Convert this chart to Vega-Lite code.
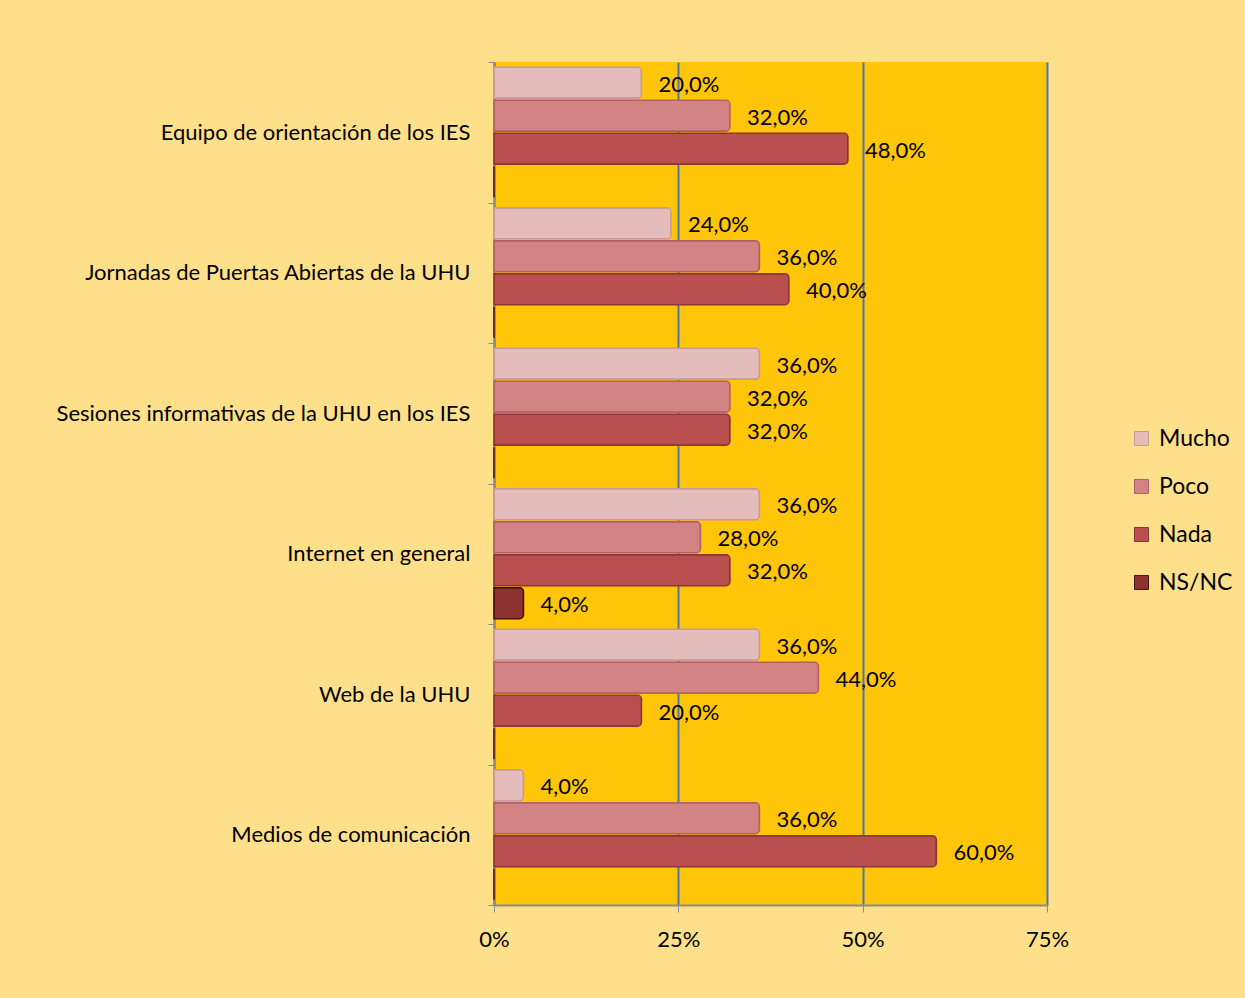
{
  "$schema": "https://vega.github.io/schema/vega-lite/v6.json",
  "width": 553,
  "height": 843,
  "autosize": {"type": "none"},
  "padding": {"left": 494, "top": 62, "right": 198, "bottom": 93},
  "background": "#FFE08A",
  "data": {
    "values": [
      {"medio": "Equipo de orientación de los IES", "respuesta": "Mucho", "valor": 0.20},
      {"medio": "Equipo de orientación de los IES", "respuesta": "Poco", "valor": 0.32},
      {"medio": "Equipo de orientación de los IES", "respuesta": "Nada", "valor": 0.48},
      {"medio": "Equipo de orientación de los IES", "respuesta": "NS/NC", "valor": 0},
      {"medio": "Jornadas de Puertas Abiertas de la UHU", "respuesta": "Mucho", "valor": 0.24},
      {"medio": "Jornadas de Puertas Abiertas de la UHU", "respuesta": "Poco", "valor": 0.36},
      {"medio": "Jornadas de Puertas Abiertas de la UHU", "respuesta": "Nada", "valor": 0.40},
      {"medio": "Jornadas de Puertas Abiertas de la UHU", "respuesta": "NS/NC", "valor": 0},
      {"medio": "Sesiones informativas de la UHU en los IES", "respuesta": "Mucho", "valor": 0.36},
      {"medio": "Sesiones informativas de la UHU en los IES", "respuesta": "Poco", "valor": 0.32},
      {"medio": "Sesiones informativas de la UHU en los IES", "respuesta": "Nada", "valor": 0.32},
      {"medio": "Sesiones informativas de la UHU en los IES", "respuesta": "NS/NC", "valor": 0},
      {"medio": "Internet en general", "respuesta": "Mucho", "valor": 0.36},
      {"medio": "Internet en general", "respuesta": "Poco", "valor": 0.28},
      {"medio": "Internet en general", "respuesta": "Nada", "valor": 0.32},
      {"medio": "Internet en general", "respuesta": "NS/NC", "valor": 0.04},
      {"medio": "Web de la UHU", "respuesta": "Mucho", "valor": 0.36},
      {"medio": "Web de la UHU", "respuesta": "Poco", "valor": 0.44},
      {"medio": "Web de la UHU", "respuesta": "Nada", "valor": 0.20},
      {"medio": "Web de la UHU", "respuesta": "NS/NC", "valor": 0},
      {"medio": "Medios de comunicación", "respuesta": "Mucho", "valor": 0.04},
      {"medio": "Medios de comunicación", "respuesta": "Poco", "valor": 0.36},
      {"medio": "Medios de comunicación", "respuesta": "Nada", "valor": 0.60},
      {"medio": "Medios de comunicación", "respuesta": "NS/NC", "valor": 0}
    ]
  },
  "encoding": {
    "y": {
      "field": "medio",
      "type": "nominal",
      "sort": null,
      "title": null,
      "scale": {"paddingInner": 0, "paddingOuter": 0},
      "axis": {
        "tickBand": "extent",
        "tickSize": 6,
        "tickColor": "#8C8C8C",
        "domainColor": "#8C8C8C",
        "domainWidth": 2,
        "labelPadding": 18,
        "labelFontSize": 22,
        "labelLimit": 500
      }
    },
    "yOffset": {
      "field": "respuesta",
      "type": "nominal",
      "sort": ["Mucho", "Poco", "Nada", "NS/NC"],
      "scale": {"paddingInner": 0.06, "paddingOuter": 0.16}
    },
    "x": {
      "field": "valor",
      "type": "quantitative",
      "title": null,
      "scale": {"domain": [0, 0.75], "nice": false},
      "axis": {
        "values": [0, 0.25, 0.5, 0.75],
        "format": ".0%",
        "grid": true,
        "gridColor": "#4F76A8",
        "gridOpacity": 1,
        "gridWidth": 2,
        "tickSize": 7,
        "tickColor": "#8C8C8C",
        "domainColor": "#8C8C8C",
        "domainWidth": 2,
        "labelFlush": false,
        "labelPadding": 17,
        "labelFontSize": 22
      }
    }
  },
  "layer": [
    {
      "mark": {"type": "bar", "cornerRadiusEnd": 4, "strokeWidth": 1.5},
      "encoding": {
        "color": {
          "field": "respuesta",
          "type": "nominal",
          "title": null,
          "sort": ["Mucho", "Poco", "Nada", "NS/NC"],
          "scale": {
            "domain": ["Mucho", "Poco", "Nada", "NS/NC"],
            "range": ["#E5BCBC", "#D38383", "#BA4F4F", "#8E3131"]
          },
          "legend": {
            "orient": "none",
            "legendX": 636,
            "legendY": 365,
            "symbolType": "square",
            "symbolSize": 196,
            "symbolStrokeColor": "#8C8C8C",
            "symbolStrokeWidth": 1,
            "labelFontSize": 23,
            "labelOffset": 6,
            "rowPadding": 24
          }
        },
        "stroke": {
          "field": "respuesta",
          "type": "nominal",
          "legend": null,
          "scale": {
            "domain": ["Mucho", "Poco", "Nada", "NS/NC"],
            "range": ["#C89A9A", "#B36262", "#8E3535", "#4A1212"]
          }
        }
      }
    },
    {
      "transform": [{"filter": "datum.valor > 0"}],
      "mark": {"type": "text", "align": "left", "baseline": "middle", "dx": 17, "dy": 2, "fontSize": 22, "color": "#000000"},
      "encoding": {
        "text": {"field": "valor", "type": "quantitative", "format": ".1%"}
      }
    }
  ],
  "config": {
    "font": "Lato",
    "locale": {
      "number": {"decimal": ",", "thousands": ".", "grouping": [3], "currency": ["", " €"]}
    },
    "view": {"fill": "#FFC508", "stroke": null},
    "axis": {"labelColor": "#000000", "labelFont": "Lato"},
    "legend": {"labelColor": "#000000", "labelFont": "Lato"}
  }
}
